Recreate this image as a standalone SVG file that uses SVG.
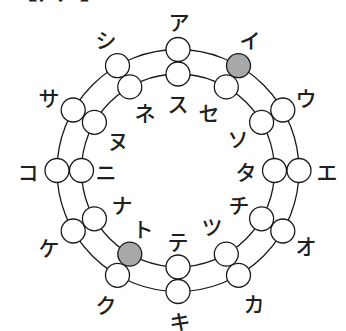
<svg xmlns="http://www.w3.org/2000/svg" width="346" height="331" viewBox="0 0 346 331">
<style>
.ring{fill:none;stroke:#1a1a1a;stroke-width:1.3}
.n{fill:#fff;stroke:#1a1a1a;stroke-width:1.3}
.g{fill:#a7a8aa;stroke:#1a1a1a;stroke-width:1.3}
.t{font-family:"Noto Sans CJK JP","Noto Sans",sans-serif;font-size:21px;font-weight:500;fill:#231f20;text-anchor:middle}
.title{font-family:"Noto Sans CJK JP","Noto Sans",sans-serif;font-size:26px;font-weight:bold;fill:#231f20}
</style>
<rect width="346" height="331" fill="#fff"/>
<text class="title" x="12" y="-1">【図3】</text>
<g id="connectors">
<circle class="ring" cx="178" cy="170.5" r="121"/>
<circle class="ring" cx="178" cy="170.5" r="96.5"/>
</g>
<g id="outer">
<circle id="o-a" class="n" cx="178" cy="49.5" r="12"/>
<circle id="o-i" class="g" cx="238.5" cy="65.7" r="12"/>
<circle id="o-u" class="n" cx="282.8" cy="110" r="12"/>
<circle id="o-e" class="n" cx="299" cy="170.5" r="12"/>
<circle id="o-o" class="n" cx="282.8" cy="231" r="12"/>
<circle id="o-ka" class="n" cx="238.5" cy="275.3" r="12"/>
<circle id="o-ki" class="n" cx="178" cy="291.5" r="12"/>
<circle id="o-ku" class="n" cx="117.5" cy="275.3" r="12"/>
<circle id="o-ke" class="n" cx="73.2" cy="231" r="12"/>
<circle id="o-ko" class="n" cx="57" cy="170.5" r="12"/>
<circle id="o-sa" class="n" cx="73.2" cy="110" r="12"/>
<circle id="o-shi" class="n" cx="117.5" cy="65.7" r="12"/>
</g>
<g id="inner">
<circle id="i-su" class="n" cx="178" cy="74" r="12"/>
<circle id="i-se" class="n" cx="226.3" cy="86.9" r="12"/>
<circle id="i-so" class="n" cx="261.6" cy="122.3" r="12"/>
<circle id="i-ta" class="n" cx="274.5" cy="170.5" r="12"/>
<circle id="i-chi" class="n" cx="261.6" cy="218.8" r="12"/>
<circle id="i-tsu" class="n" cx="226.3" cy="254.1" r="12"/>
<circle id="i-te" class="n" cx="178" cy="267" r="12"/>
<circle id="i-to" class="g" cx="129.8" cy="254.1" r="12"/>
<circle id="i-na" class="n" cx="94.4" cy="218.8" r="12"/>
<circle id="i-ni" class="n" cx="81.5" cy="170.5" r="12"/>
<circle id="i-nu" class="n" cx="94.4" cy="122.3" r="12"/>
<circle id="i-ne" class="n" cx="129.8" cy="86.9" r="12"/>
</g>
<g id="labels">
<text class="t" x="179" y="30">ア</text>
<text class="t" x="250" y="47.5">イ</text>
<text class="t" x="306" y="105.5">ウ</text>
<text class="t" x="327" y="179.5">エ</text>
<text class="t" x="306" y="253.5">オ</text>
<text class="t" x="254" y="311.5">カ</text>
<text class="t" x="180" y="329">キ</text>
<text class="t" x="106" y="312.5">ク</text>
<text class="t" x="49" y="255.5">ケ</text>
<text class="t" x="28" y="179.5">コ</text>
<text class="t" x="49" y="105.5">サ</text>
<text class="t" x="106" y="47.5">シ</text>
<text class="t" x="178" y="112">ス</text>
<text class="t" x="209" y="120.5">セ</text>
<text class="t" x="238" y="146.5">ソ</text>
<text class="t" x="246" y="179.5">タ</text>
<text class="t" x="239" y="212.5">チ</text>
<text class="t" x="212" y="234.5">ツ</text>
<text class="t" x="178" y="249.5">テ</text>
<text class="t" x="143" y="237">ト</text>
<text class="t" x="122" y="212.5">ナ</text>
<text class="t" x="106" y="179.5">ニ</text>
<text class="t" x="118" y="148.5">ヌ</text>
<text class="t" x="145" y="120.5">ネ</text>
</g>
</svg>
